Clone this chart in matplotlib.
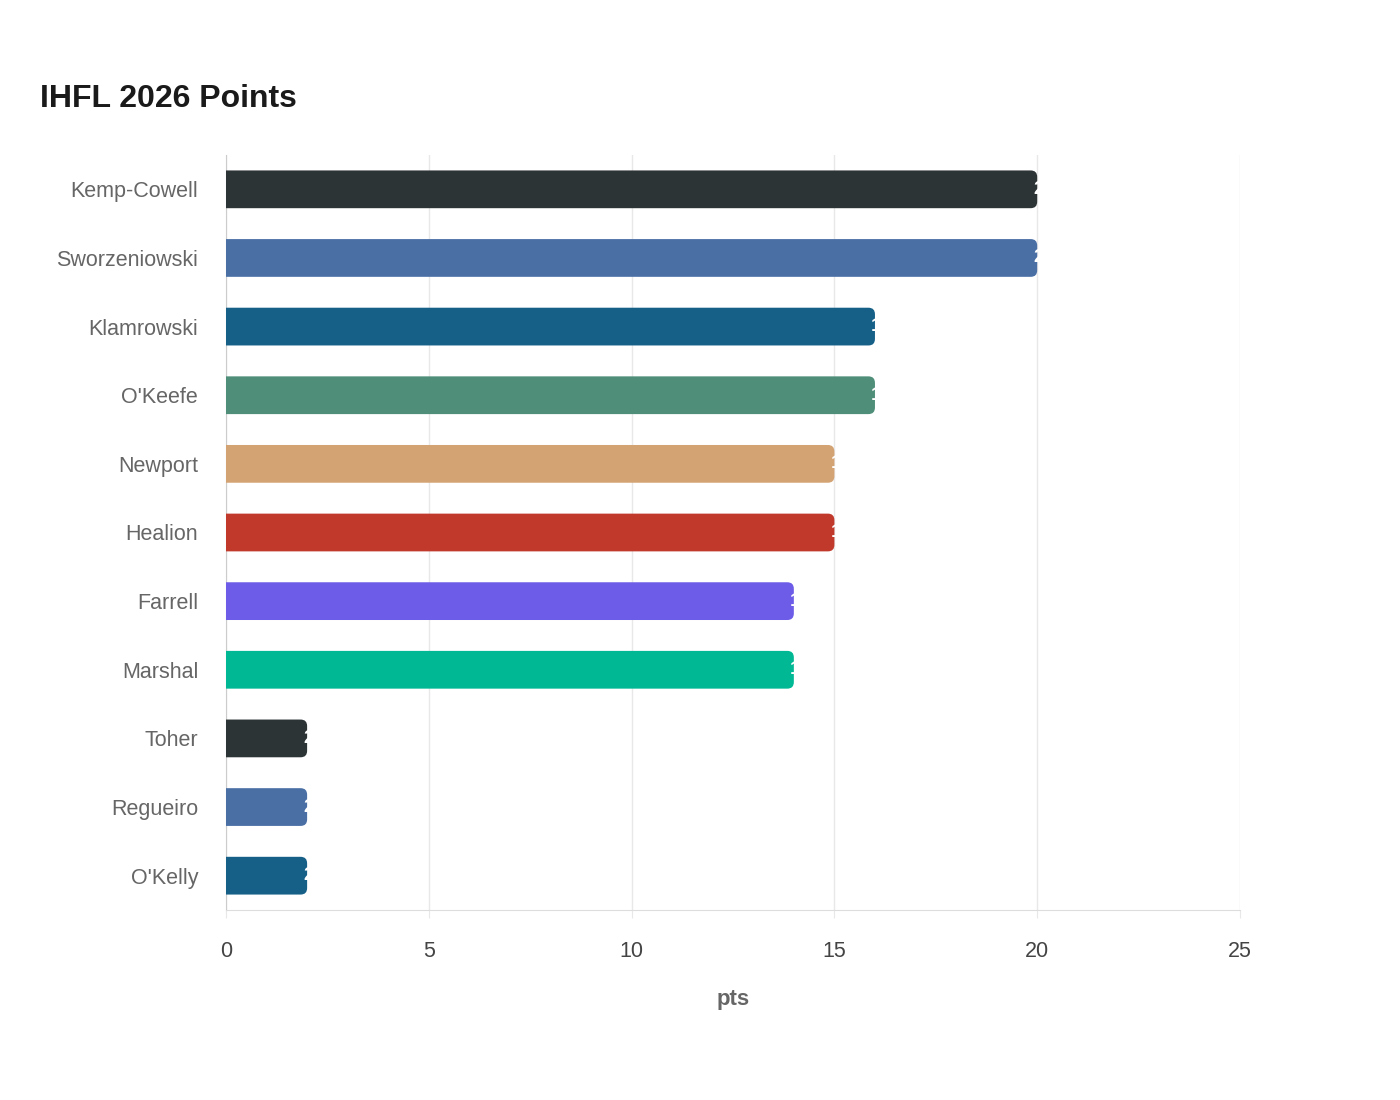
import matplotlib.pyplot as plt
from matplotlib.patches import FancyBboxPatch

players = ["Kemp-Cowell", "Sworzeniowski", "Klamrowski", "O'Keefe", "Newport",
           "Healion", "Farrell", "Marshal", "Toher", "Regueiro", "O'Kelly"]
points = [20, 20, 16, 16, 15, 15, 14, 14, 2, 2, 2]
colors = ["#2d3436", "#4a6fa5", "#166088", "#4f8f7a", "#d4a373",
          "#c0392b", "#6c5ce7", "#00b894", "#2d3436", "#4a6fa5", "#166088"]

plt.rcParams['font.family'] = ['Liberation Sans', 'DejaVu Sans']

fig = plt.figure(figsize=(14, 11), dpi=100)
ax = fig.add_axes([226/1400, 1 - 910/1100, (1240-226)/1400, (910-155)/1100])

ypos = list(range(len(players)))[::-1]
h = 0.55
# aspect of data units (y per x) for the rounded corners
ratio = (11 / 755) / (25 / 1014)
for y, v, c in zip(ypos, points, colors):
    # start left of the axis so the axes clip gives a square left end
    box = FancyBboxPatch((-1, y - h/2), v + 1, h, boxstyle="round,pad=0,rounding_size=0.16",
                         mutation_aspect=ratio, facecolor=c, edgecolor="none", zorder=3)
    ax.add_patch(box)
    ax.text(v - 0.1, y, str(v), color="white", fontsize=14, fontweight="bold",
            va="center", ha="left", zorder=4)

ax.set_xlim(0, 25)
ax.set_ylim(-0.5, 10.5)
ax.set_yticks(ypos)
ax.set_yticklabels(players)
ax.set_xticks([0, 5, 10, 15, 20, 25])
ax.grid(axis="x", color="#e8e8e8", linewidth=1)
ax.set_axisbelow(True)
for s in ["top", "right"]:
    ax.spines[s].set_visible(False)
ax.spines["left"].set_color("#cccccc")
ax.spines["bottom"].set_color("#dddddd")
ax.tick_params(axis="y", length=0, pad=20, labelsize=15.5, labelcolor="#666666")
ax.tick_params(axis="x", length=6, color="#e8e8e8", pad=16.5, labelsize=15.5, labelcolor="#444444")
ax.set_xlabel("pts", fontsize=16, fontweight="bold", color="#666666", labelpad=19)

fig.text(40/1400, 1 - 99/1100, "IHFL 2026 Points", fontsize=23, fontweight="bold",
         color="#1a1a1a", va="center", ha="left")

fig.savefig("out.png", dpi=100)
